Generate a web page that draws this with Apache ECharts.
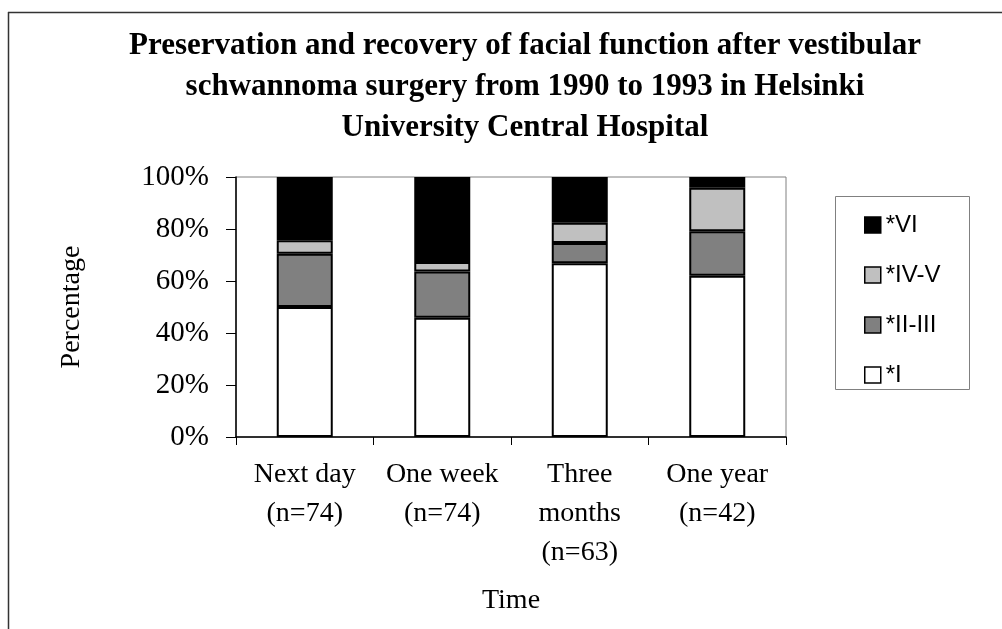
<!DOCTYPE html>
<html>
<head>
<meta charset="utf-8">
<script src="https://cdn.jsdelivr.net/npm/echarts@6/dist/echarts.min.js"></script>
<style>
html,body{margin:0;padding:0;background:#fff;}
#chart{width:1002px;height:629px;}
</style>
</head>
<body>
<div id="chart"></div>
<script>
var categories = ['Next day\n(n=74)', 'One week\n(n=74)', 'Three\nmonths\n(n=63)', 'One year\n(n=42)'];
var gradeI = [50.0, 45.9, 66.8, 62.0];
var gradeIIIII = [20.5, 17.8, 7.8, 17.1];
var gradeIVV = [5.2, 3.6, 7.8, 16.8];
var gradeVI = [24.3, 32.7, 17.6, 4.1];
var yTicks = [0, 20, 40, 60, 80, 100];

var serif = "'Liberation Serif', 'Times New Roman', serif";
var sans = "'Liberation Sans', Arial, sans-serif";

function barSeries(name, data, color) {
  return {
    name: name, type: 'bar', stack: 'total', data: data,
    barWidth: 56,
    itemStyle: { color: color, borderColor: '#000', borderWidth: 2 },
    emphasis: { disabled: true }
  };
}

var chart = echarts.init(document.getElementById('chart'), null, { renderer: 'canvas' });
chart.setOption({
  animation: false,
  backgroundColor: '#fff',
  title: {
    text: 'Preservation and recovery of facial function after vestibular\nschwannoma surgery from 1990 to 1993 in Helsinki\nUniversity Central Hospital',
    left: 520, top: 20, textAlign: 'center',
    textStyle: { fontFamily: serif, fontWeight: 'bold', fontSize: 31, lineHeight: 41, color: '#000' }
  },
  grid: {
    left: 236, right: 216, top: 177, bottom: 192,
    show: true, borderColor: '#808080', borderWidth: 1, backgroundColor: 'transparent'
  },
  legend: {
    orient: 'vertical', left: 835, top: 197,
    padding: [16, 0, 0, 29],
    itemWidth: 16, itemHeight: 16, itemGap: 26,
    icon: 'rect',
    itemStyle: { borderColor: '#000', borderWidth: 1.5 },
    data: ['*VI', '*IV-V', '*II-III', '*I'],
    textStyle: { fontFamily: sans, fontSize: 24, lineHeight: 24, color: '#000' },
    selectedMode: false
  },
  xAxis: {
    type: 'category', data: categories,
    name: 'Time', nameLocation: 'middle', nameGap: 150,
    nameTextStyle: { fontFamily: serif, fontSize: 28, color: '#000' },
    axisLine: { lineStyle: { color: '#000', width: 1.5 } },
    axisTick: { show: true, length: 8, lineStyle: { color: '#000' } },
    axisLabel: { fontFamily: serif, fontSize: 28, lineHeight: 39, color: '#000', margin: 18, interval: 0 }
  },
  yAxis: {
    type: 'value', min: 0, max: 100, interval: 20,
    name: 'Percentage', nameLocation: 'middle', nameGap: 150, nameRotate: 90,
    nameTextStyle: { fontFamily: serif, fontSize: 28, color: '#000' },
    axisLine: { show: true, lineStyle: { color: '#000', width: 1.5 } },
    axisTick: { show: true, length: 10, lineStyle: { color: '#000' } },
    splitLine: { show: false },
    axisLabel: {
      fontFamily: serif, fontSize: 29, color: '#000', margin: 27,
      formatter: function (v) { return yTicks.indexOf(v) >= 0 ? v + '%' : ''; }
    }
  },
  graphic: [
    { type: 'line', shape: { x1: 8.5, y1: 12, x2: 8.5, y2: 629 }, style: { stroke: '#333', lineWidth: 1.5 } },
    { type: 'line', shape: { x1: 8, y1: 12.5, x2: 1002, y2: 12.5 }, style: { stroke: '#333', lineWidth: 1.5 } },
    { type: 'rect', shape: { x: 835.5, y: 196.5, width: 134, height: 193 }, style: { fill: 'none', stroke: '#808080', lineWidth: 1 } }
  ],
  series: [
    barSeries('*I', gradeI, '#ffffff'),
    barSeries('*II-III', gradeIIIII, '#808080'),
    barSeries('*IV-V', gradeIVV, '#c0c0c0'),
    barSeries('*VI', gradeVI, '#000000')
  ]
});
</script>
</body>
</html>
